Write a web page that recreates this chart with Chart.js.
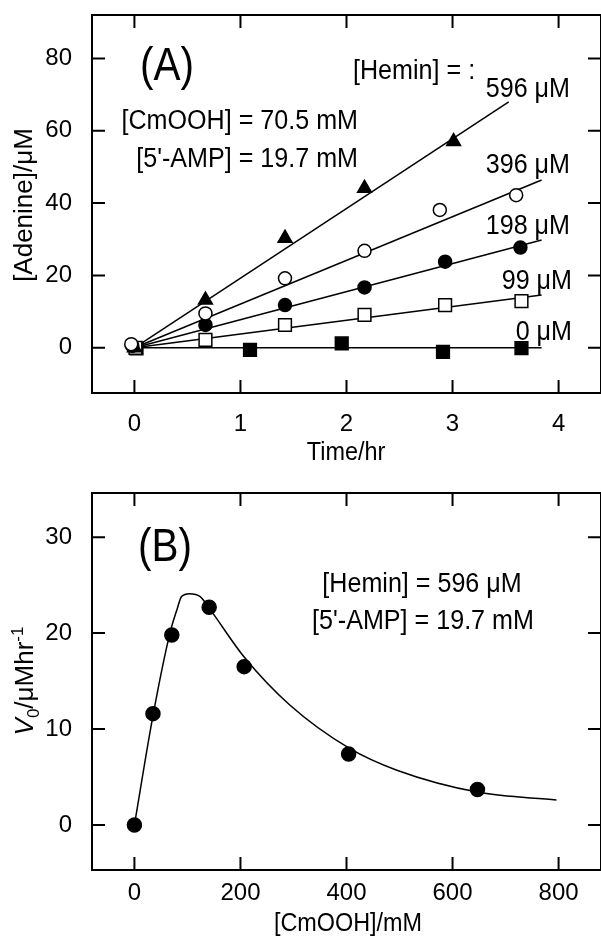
<!DOCTYPE html>
<html>
<head>
<meta charset="utf-8">
<script src="https://cdn.jsdelivr.net/npm/chart.js@4.4.0/dist/chart.umd.min.js"></script>
<style>
  body { margin: 0; background: #fff; }
  #wrapA { position: absolute; left: 0; top: 0; }
  #wrapB { position: absolute; left: 0; top: 470px; }
</style>
</head>
<body>
<div id="wrapA"><canvas id="chartA" width="601" height="470"></canvas></div>
<div id="wrapB"><canvas id="chartB" width="601" height="482"></canvas></div>
<script>
// --- Panel A data: adenine formed vs time, one series per hemin level ---
const timeTicks = [0, 1, 2, 3, 4];
const adenineTicks = [0, 20, 40, 60, 80];
const heminLevels = ['596', '396', '198', '99', '0'];

const t596 = [0, 0.67, 1.42, 2.17, 3.01];
const a596 = [0, 13.2, 30.3, 44.1, 57.0];
const t396 = [-0.03, 0.67, 1.42, 2.17, 2.88, 3.60];
const a396 = [1.0, 9.5, 19.2, 26.8, 38.1, 42.2];
const t198 = [-0.02, 0.67, 1.42, 2.17, 2.93, 3.64];
const a198 = [0.5, 6.3, 11.8, 16.7, 23.8, 27.7];
const t99 = [0.01, 0.67, 1.42, 2.17, 2.93, 3.65];
const a99 = [0, 2.2, 6.3, 9.1, 11.8, 12.9];
const t0 = [0.02, 1.09, 1.955, 2.91, 3.65];
const a0 = [-0.2, -0.6, 1.2, -1.1, -0.1];

// fitted lines, all from the origin to these end points
const fitEndT = [3.53, 3.84, 3.84, 3.84, 3.84];
const fitEndA = [68.0, 46.4, 29.8, 14.6, 0];

// --- Panel B data: initial rate vs CmOOH ---
const cmoohTicks = [0, 200, 400, 600, 800];
const rateTicks = [0, 10, 20, 30];
const cmooh = [0, 35, 70.5, 141, 207, 404, 647];
const rate = [0, 11.6, 19.8, 22.7, 16.5, 7.4, 3.7];
// fitted curve
const curveX = [0, 35.7, 67, 80, 89, 104, 124, 141, 207, 293, 405, 495, 649, 796];
const curveY = [0, 11.6, 20.0, 22.4, 23.8, 24.1, 23.8, 22.6, 17.5, 12.5, 8.0, 5.7, 3.4, 2.6];

const FONT = '"Liberation Sans", Arial, Helvetica, sans-serif';
const TICK = 13;

function pts(xs, ys) {
  return xs.map((x, i) => ({ x: x, y: ys[i] }));
}

function drawLabel(ctx, item) {
  ctx.save();
  ctx.font = item.size + 'px ' + FONT;
  ctx.fillStyle = '#000';
  ctx.textBaseline = 'middle';
  ctx.textAlign = item.align || 'left';
  ctx.translate(item.x, item.y);
  if (item.rotate) ctx.rotate(-Math.PI / 2);
  ctx.scale(item.sx || 1, 1);
  ctx.fillText(item.text, 0, 0);
  ctx.restore();
}

// V0/uMhr-1 with italic V, subscript 0 and superscript -1
function drawRateTitle(ctx, cx, cy, size) {
  const small = Math.round(size * 0.65);
  const parts = [
    { text: 'V', font: 'italic ' + size + 'px ' + FONT, dy: 0 },
    { text: '0', font: small + 'px ' + FONT, dy: size * 0.22 },
    { text: '/μMhr', font: size + 'px ' + FONT, dy: 0 },
    { text: '-1', font: small + 'px ' + FONT, dy: -size * 0.4 }
  ];
  ctx.save();
  ctx.translate(cx, cy);
  ctx.rotate(-Math.PI / 2);
  ctx.fillStyle = '#000';
  ctx.textBaseline = 'alphabetic';
  let total = 0;
  parts.forEach(p => { ctx.font = p.font; p.w = ctx.measureText(p.text).width; total += p.w; });
  let x = -total / 2;
  const base = size * 0.36;
  parts.forEach(p => {
    ctx.font = p.font;
    ctx.fillText(p.text, x, base + p.dy);
    x += p.w;
  });
  ctx.restore();
}

// frame, inward ticks on all four sides, and the annotations
const framePlugin = {
  id: 'frame',
  afterDraw(chart, args, opts) {
    const ctx = chart.ctx;
    const a = chart.chartArea;
    const sx = chart.scales.x;
    const sy = chart.scales.y;
    ctx.save();
    ctx.strokeStyle = '#000';
    ctx.lineWidth = 2;
    ctx.strokeRect(a.left, a.top, a.right - a.left, a.bottom - a.top);
    ctx.beginPath();
    sx.ticks.forEach(t => {
      const px = sx.getPixelForValue(t.value);
      ctx.moveTo(px, a.bottom); ctx.lineTo(px, a.bottom - TICK);
      ctx.moveTo(px, a.top); ctx.lineTo(px, a.top + TICK);
    });
    sy.ticks.forEach(t => {
      const py = sy.getPixelForValue(t.value);
      ctx.moveTo(a.left, py); ctx.lineTo(a.left + TICK, py);
      ctx.moveTo(a.right, py); ctx.lineTo(a.right - TICK, py);
    });
    ctx.stroke();
    ctx.restore();
    (opts.texts || []).forEach(item => drawLabel(ctx, item));
    if (opts.rateTitle) drawRateTitle(ctx, opts.rateTitle.x, opts.rateTitle.y, opts.rateTitle.size);
  }
};

function axis(min, max, tickValues, pad, size) {
  return {
    type: 'linear',
    min: min,
    max: max,
    grid: { display: false, drawTicks: false },
    border: { display: false },
    ticks: { color: '#000', font: { family: FONT, size: 24 }, padding: pad },
    afterBuildTicks: s => { s.ticks = tickValues.map(v => ({ value: v })); },
    afterFit: s => {
      if (s.isHorizontal()) s.height = size; else s.width = size;
      // keep the plot box where the figure has it
      s.paddingLeft = 0; s.paddingRight = 0; s.paddingTop = 0; s.paddingBottom = 0;
    }
  };
}

function marker(label, data, style, fill, r) {
  return {
    label: label, data: data, showLine: false, order: 0,
    pointStyle: style, pointRadius: r, pointHoverRadius: r,
    pointBackgroundColor: fill, pointBorderColor: '#000', pointBorderWidth: 1.5
  };
}

function fitLine(i) {
  return {
    data: pts([0, fitEndT[i]], [0, fitEndA[i]]), showLine: true, order: 1,
    borderColor: '#000', borderWidth: 1.5, pointRadius: 0
  };
}

const common = {
  responsive: false,
  animation: false,
  events: []
};

new Chart(document.getElementById('chartA'), {
  type: 'scatter',
  data: {
    datasets: [
      marker(heminLevels[1], pts(t396, a396), 'circle', '#fff', 6.5),
      marker(heminLevels[2], pts(t198, a198), 'circle', '#000', 6.5),
      marker(heminLevels[0], pts(t596, a596), 'triangle', '#000', 8),
      marker(heminLevels[3], pts(t99, a99), 'rect', '#fff', 9),
      marker(heminLevels[4], pts(t0, a0), 'rect', '#000', 9),
      fitLine(0), fitLine(1), fitLine(2), fitLine(3), fitLine(4)
    ]
  },
  options: Object.assign({}, common, {
    layout: { autoPadding: false, padding: { top: 15, left: 0, right: 0, bottom: 0 } },
    plugins: {
      legend: { display: false },
      tooltip: { enabled: false },
      frame: {
        texts: [
          { text: '(A)', x: 140, y: 67, size: 46, sx: 0.88 },
          { text: '[Hemin] = :', x: 353, y: 72, size: 27, sx: 0.93 },
          { text: heminLevels[0] + ' μM', x: 570, y: 90, size: 27, sx: 0.93, align: 'right' },
          { text: heminLevels[1] + ' μM', x: 570, y: 166, size: 27, sx: 0.93, align: 'right' },
          { text: heminLevels[2] + ' μM', x: 570, y: 227, size: 27, sx: 0.93, align: 'right' },
          { text: heminLevels[3] + ' μM', x: 572, y: 282, size: 27, sx: 0.93, align: 'right' },
          { text: heminLevels[4] + ' μM', x: 572, y: 333, size: 27, sx: 0.93, align: 'right' },
          { text: '[CmOOH] = 70.5 mM', x: 358, y: 122, size: 27, sx: 0.93, align: 'right' },
          { text: "[5'-AMP] = 19.7 mM", x: 358, y: 160, size: 27, sx: 0.93, align: 'right' },
          { text: 'Time/hr', x: 346, y: 453, size: 26, sx: 0.9, align: 'center' },
          { text: '[Adenine]/μM', x: 25, y: 205, size: 26, align: 'center', rotate: true }
        ]
      }
    },
    scales: {
      x: axis(-0.4, 4.4, timeTicks, 17, 77),
      y: axis(-12.5, 92, adenineTicks, 20, 92)
    }
  }),
  plugins: [framePlugin]
});

new Chart(document.getElementById('chartB'), {
  type: 'scatter',
  data: {
    datasets: [
      marker('rate', pts(cmooh, rate), 'circle', '#000', 7),
      {
        data: pts(curveX, curveY), showLine: true, order: 1,
        borderColor: '#000', borderWidth: 1.5, pointRadius: 0,
        cubicInterpolationMode: 'monotone'
      }
    ]
  },
  options: Object.assign({}, common, {
    layout: { autoPadding: false, padding: { top: 23, left: 0, right: 0, bottom: 0 } },
    plugins: {
      legend: { display: false },
      tooltip: { enabled: false },
      frame: {
        texts: [
          { text: '(B)', x: 138, y: 78, size: 46, sx: 0.88 },
          { text: '[Hemin] = 596 μM', x: 422, y: 115, size: 27, sx: 0.93, align: 'center' },
          { text: "[5'-AMP] = 19.7 mM", x: 423, y: 152, size: 27, sx: 0.93, align: 'center' },
          { text: '[CmOOH]/mM', x: 348, y: 454, size: 26, sx: 0.9, align: 'center' }
        ],
        rateTitle: { x: 24, y: 211, size: 26 }
      }
    },
    scales: {
      x: axis(-80, 880, cmoohTicks, 9, 82),
      y: axis(-4.7, 34.6, rateTicks, 20, 92)
    }
  }),
  plugins: [framePlugin]
});
</script>
</body>
</html>
